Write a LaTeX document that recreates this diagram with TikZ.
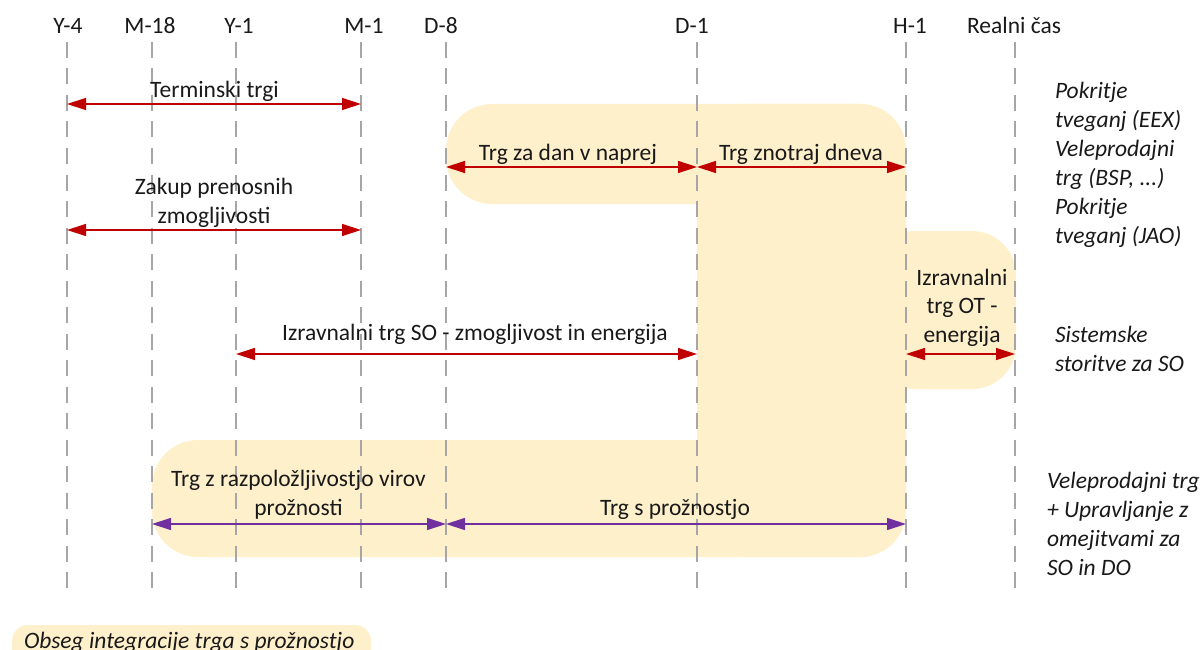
\documentclass[tikz,border=0pt]{standalone}
\usepackage{fontspec}
\setmainfont{Carlito}
\usetikzlibrary{arrows.meta}
\definecolor{flexfill}{HTML}{FFF0CC}
\definecolor{mktred}{HTML}{C00000}
\definecolor{flexpurple}{HTML}{7030A0}
\definecolor{guidegray}{HTML}{A6A6A6}

\begin{document}
\begin{tikzpicture}[x=1pt,y=-1pt,
  every node/.style={font=\fontsize{23.5}{28.5}\selectfont, inner sep=0pt, outer sep=0pt, text=black!90},
  marklabel/.style={anchor=base},
  lbl/.style={anchor=base, align=center},
  sidenote/.style={anchor=base west, align=left, font=\fontsize{23.5}{29}\selectfont\itshape},
  guide/.style={draw=guidegray, line width=1.3pt, dash pattern=on 16pt off 10.5pt},
  redspan/.style={draw=mktred, line width=1.3pt, {Triangle[length=19pt,width=12pt]}-{Triangle[length=19pt,width=12pt]}},
  purplespan/.style={draw=flexpurple, line width=1.3pt, {Triangle[length=19pt,width=12pt]}-{Triangle[length=19pt,width=12pt]}},
  zone/.style={fill=flexfill, rounded corners=46pt},
]
\useasboundingbox (0,0) rectangle (1204,650);
\clip (0,0) rectangle (1204,650);

% time marks (top of each guide line)
\coordinate (Y4)  at (67,42);
\coordinate (M18) at (152,42);
\coordinate (Y1)  at (236,42);
\coordinate (M1)  at (361,42);
\coordinate (D8)  at (446,42);
\coordinate (D1)  at (697,42);
\coordinate (H1)  at (906,42);
\coordinate (RT)  at (1015,42);
\coordinate (bot) at (0,591);

% rows of the market spans
\coordinate (r1) at (0,104);
\coordinate (r2) at (0,167);
\coordinate (r3) at (0,230);
\coordinate (r4) at (0,354);
\coordinate (r5) at (0,524);

% area of market integration with flexibility
\fill[zone] (446,104) rectangle (906,204);
\fill[zone] (697,104) rectangle (906,557);
\fill[zone] (152,440) rectangle (906,557);
\fill[zone, rounded corners=44pt] (870,231) rectangle (1016,389);
\fill[zone, rounded corners=16pt] (12,625) rectangle (371,672);

% guide lines
\foreach \m in {Y4,M18,Y1,M1,D8,D1,H1,RT}
  \draw[guide] (\m) -- (\m |- bot);

% mark labels
\node[marklabel] (tY4)  at (68,34)   {Y-4};
\node[marklabel] (tM18) at (150,34)  {M-18};
\node[marklabel] (tY1)  at (239,34)  {Y-1};
\node[marklabel] (tM1)  at (364,34)  {M-1};
\node[marklabel] (tD8)  at (441,34)  {D-8};
\node[marklabel] (tD1)  at (692,34)  {D-1};
\node[marklabel] (tH1)  at (910,34)  {H-1};
\node[marklabel] (tRT)  at (1014,34) {Realni čas};

% market spans
\draw[redspan] (Y4 |- r1) -- (M1 |- r1);
\draw[redspan] (D8 |- r2) -- (D1 |- r2);
\draw[redspan] (D1 |- r2) -- (H1 |- r2);
\draw[redspan] (Y4 |- r3) -- (M1 |- r3);
\draw[redspan] (Y1 |- r4) -- (D1 |- r4);
\draw[redspan] (H1 |- r4) -- (RT |- r4);
\draw[purplespan] (M18 |- r5) -- (D8 |- r5);
\draw[purplespan] (D8 |- r5) -- (H1 |- r5);

% span labels (base anchor sits on the last line)
\node[lbl] (lterm) at (214.5,98) {Terminski trgi};
\node[lbl] (lda)   at (568,160)  {Trg za dan v naprej};
\node[lbl] (lid)   at (801,160)  {Trg znotraj dneva};
\node[lbl] (ltr)   at (214,223)  {Zakup prenosnih\\zmogljivosti};
\node[lbl] (lso)   at (475,340)  {Izravnalni trg SO - zmogljivost in energija};
\node[lbl] (lot)   at (962,342)  {Izravnalni\\trg OT -\\energija};
\node[lbl] (lfa)   at (298.5,515) {Trg z razpoložljivostjo virov\\prožnosti};
\node[lbl] (lfm)   at (675,515)  {Trg s prožnostjo};

% notes on the right
\node[sidenote] (n1) at (1055,243) {Pokritje\\tveganj (EEX)\\Veleprodajni\\trg (BSP, ...)\\Pokritje\\tveganj (JAO)};
\node[sidenote] (n2) at (1055,371) {Sistemske\\storitve za SO};
\node[sidenote] (n3) at (1047,575) {Veleprodajni trg\\+ Upravljanje z\\omejitvami za\\SO in DO};

% legend
\node[anchor=base west, font=\fontsize{23.5}{28.5}\selectfont\itshape] (legend) at (24,648) {Obseg integracije trga s prožnostjo};
\end{tikzpicture}
\end{document}
